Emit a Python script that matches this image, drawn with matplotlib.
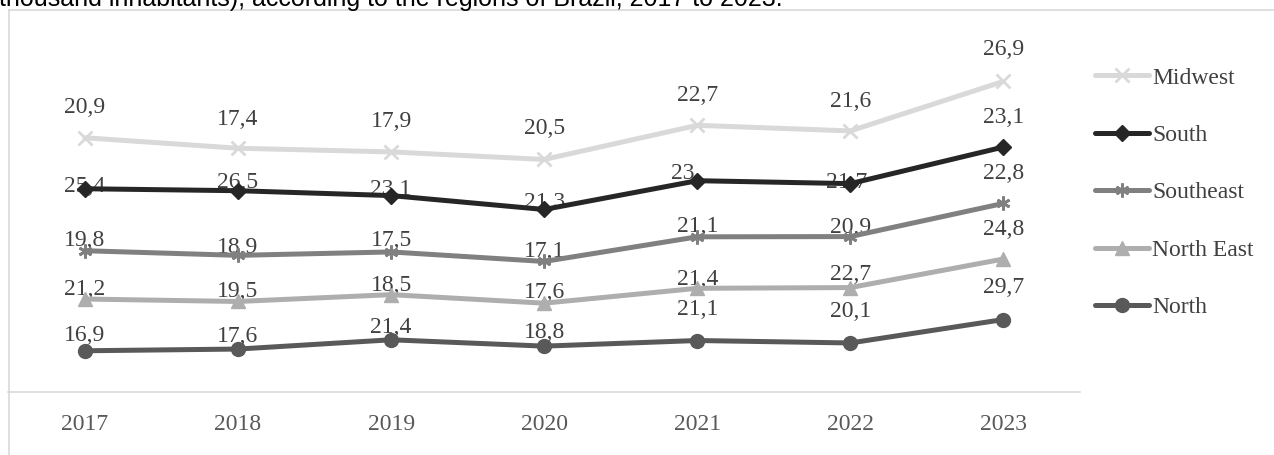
import matplotlib.pyplot as plt
import numpy as np

# dados (gráfico de linhas empilhadas, como no Excel)
anos = ['2017', '2018', '2019', '2020', '2021', '2022', '2023']
regioes = ['North', 'North East', 'Southeast', 'South', 'Midwest']
north = [16.9, 17.6, 21.4, 18.8, 21.1, 20.1, 29.7]
north_east = [21.2, 19.5, 18.5, 17.6, 21.4, 22.7, 24.8]
southeast = [19.8, 18.9, 17.5, 17.1, 21.1, 20.9, 22.8]
south = [25.4, 26.5, 23.1, 21.3, 23.0, 21.7, 23.1]
midwest = [20.9, 17.4, 17.9, 20.5, 22.7, 21.6, 26.9]
rotulos_south = ['25,4', '26,5', '23,1', '21,3', '23', '21,7', '23,1']

W, H = 1274, 455
fig = plt.figure(figsize=(W / 100, H / 100), dpi=100)
plt.rcParams['font.family'] = ['Liberation Serif', 'DejaVu Serif']

# moldura do gráfico (só aparecem a borda de cima e a da esquerda)
fig.add_artist(plt.Line2D([8.5 / W, 8.5 / W], [0, 1 - 10 / H], color='#d9d9d9', lw=1.2, transform=fig.transFigure))
fig.add_artist(plt.Line2D([8.5 / W, 1], [1 - 10 / H, 1 - 10 / H], color='#d9d9d9', lw=1.2, transform=fig.transFigure))

# título (cortado no topo, como na imagem original)
fig.text(-1 / W, 1 - 6 / H, 'thousand inhabitants), according to the regions of Brazil, 2017 to 2023.',
         family='Liberation Sans', fontsize=18, color='black', va='baseline', ha='left')

escala = 2.44  # px por unidade
y0 = 392
ytop = y0 - 140 * escala
ax = fig.add_axes([8.4 / W, 1 - y0 / H, (1080 - 8.4) / W, (y0 - ytop) / H])
ax.set_xlim(-0.5, 6.5)
ax.set_ylim(0, 140)

series = [north, north_east, southeast, south, midwest]
cores = ['#595959', '#aeaeae', '#808080', '#262626', '#d9d9d9']
marcadores = ['o', '^', (6, 2, 0), 'D', 'x']
tamanhos = [10, 10, 10, 8, 10]
# deslocamento vertical dos rótulos (px)
desloc = [[15, 13, 12, 14, 31, 31, 32],
          [10, 10, 9, 11, 9, 13, 30],
          [10, 8, 11, 10, 10, 9, 30],
          [2, 8, 6, 7, 7, 1, 30],
          [30, 29, 30, 31, 30, 29, 32]]
desloc_x = [[0] * 7, [0] * 7, [0] * 7, [0, 0, 0, 0, -15, -4, 0], [0] * 7]

x = np.arange(len(anos))
acumulado = np.cumsum(np.array(series), axis=0)
linhas = []
for i in range(len(series)):
    l, = ax.plot(x, acumulado[i], color=cores[i], lw=3.6, marker=marcadores[i],
                 markersize=tamanhos[i], markeredgewidth=2 if marcadores[i] in ['x', (6, 2, 0)] else 1,
                 label=regioes[i], zorder=3 + i, solid_capstyle='round')
    linhas.append(l)
    for j in range(len(anos)):
        if i == 3:
            txt = rotulos_south[j]
        else:
            txt = ('%.1f' % series[i][j]).replace('.', ',')
        ax.annotate(txt, (x[j], acumulado[i][j]), xytext=(desloc_x[i][j], desloc[i][j]),
                    textcoords='offset pixels', ha='center', va='center',
                    fontsize=17, color='#404040', zorder=2)

for s in ['top', 'right', 'left']:
    ax.spines[s].set_visible(False)
ax.spines['bottom'].set_color('#d9d9d9')
ax.spines['bottom'].set_linewidth(1.2)
ax.set_yticks([])
ax.set_xticks(x)
ax.set_xticklabels(anos, fontsize=17, color='#595959')
ax.tick_params(axis='x', length=0, pad=16)
ax.patch.set_alpha(0)

ax.legend(linhas[::-1], regioes[::-1], loc='upper left',
          bbox_to_anchor=(1095 / W, 1 - 67 / H), bbox_transform=fig.transFigure,
          frameon=False, fontsize=17, labelcolor='#404040', handlelength=2.3,
          handletextpad=0.12, labelspacing=1.52, borderpad=0, borderaxespad=0)

fig.savefig('out.png', dpi=100)
